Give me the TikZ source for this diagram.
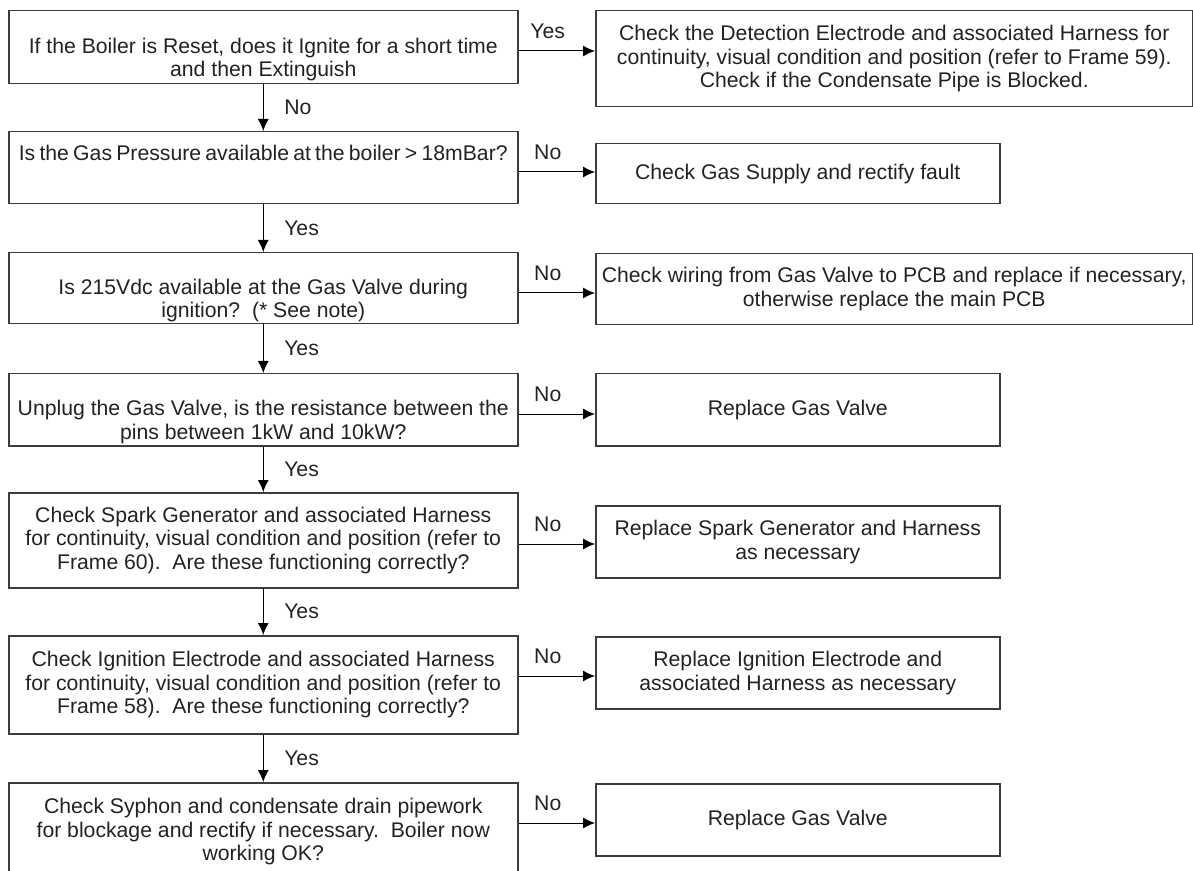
\documentclass[tikz,border=0pt]{standalone}
\usepackage{fontspec}
\setmainfont{Liberation Sans}
\usetikzlibrary{arrows.meta, positioning}
\definecolor{frame}{HTML}{3C3C3C}
\definecolor{ink}{HTML}{222222}
\tikzset{
    box/.style={rectangle, draw=frame, line width=0.75pt, anchor=north west, align=center,
                inner xsep=0.5pt, inner ysep=0pt, text=ink,
                font=\fontsize{10.6}{11.8}\selectfont},
    qbox/.style={box, minimum width=254.5pt},
    abox/.style={box, minimum width=202pt},
    widebox/.style={box, minimum width=298.5pt},
    lbl/.style={font=\fontsize{10.6}{11.8}\selectfont, text=ink, inner sep=0pt},
    arr/.style={-{Latex[length=6pt,width=5.5pt]}, line width=0.5pt, color=black},
}

\begin{document}
\begin{tikzpicture}[x=0.5pt, y=-0.5pt]
  \useasboundingbox (0,0) rectangle (1193,871);

  % questions, left column
  \node[qbox, minimum height=36.5pt] (l1) at (8,10)
        {\strut\\If the Boiler is Reset, does it Ignite for a short time\\and then Extinguish};
  \node[qbox, minimum height=36pt] (l2) at (8,131)
        {\spaceskip=0.2em Is the Gas Pressure available at the boiler > 18mBar?\\\strut};
  \node[qbox, minimum height=35.5pt] (l3) at (8,252)
        {\strut\\Is 215Vdc available at the Gas Valve during\\ignition?~~(* See note)};
  \node[qbox, minimum height=36pt] (l4) at (8,373)
        {\strut\\Unplug the Gas Valve, is the resistance between the\\pins between 1kW and 10kW?};
  \node[qbox, minimum height=47.5pt] (l5) at (8,492)
        {Check Spark Generator and associated Harness\\for continuity, visual condition and position (refer to\\Frame 60).~~Are these functioning correctly?};
  \node[qbox, minimum height=49pt] (l6) at (8,635)
        {Check Ignition Electrode and associated Harness\\for continuity, visual condition and position (refer to\\Frame 58).~~Are these functioning correctly?};
  \node[qbox, minimum height=49pt] (l7) at (8,782)
        {Check Syphon and condensate drain pipework\\for blockage and rectify if necessary.~~Boiler now\\working OK?};

  % actions, right column
  \node[widebox, minimum height=48pt] (r1) at (595,10)
        {Check the Detection Electrode and associated Harness for\\continuity, visual condition and position (refer to Frame 59).\\Check if the Condensate Pipe is Blocked.};
  \node[abox, minimum height=30pt] (r2) at (595,143) {Check Gas Supply and rectify fault};
  \node[widebox, minimum height=35.5pt] (r3) at (595,253)
        {Check wiring from Gas Valve to PCB and replace if necessary,\\otherwise replace the main PCB};
  \node[abox, minimum height=36pt] (r4) at (595,373) {Replace Gas Valve};
  \node[abox, minimum height=36pt] (r5) at (595,505)
        {Replace Spark Generator and Harness\\as necessary};
  \node[abox, minimum height=36pt] (r6) at (595,636)
        {Replace Ignition Electrode and\\associated Harness as necessary};
  \node[abox, minimum height=36pt] (r7) at (595,783) {Replace Gas Valve};

  % down the column
  \draw[arr] (l1) -- node[lbl, right=10.25pt]{No} (l2);
  \draw[arr] (l2) -- node[lbl, right=10.25pt]{Yes} (l3);
  \draw[arr] (l3) -- node[lbl, right=10.25pt]{Yes} (l4);
  \draw[arr] (l4) -- node[lbl, right=10.25pt]{Yes} (l5);
  \draw[arr] (l5) -- node[lbl, right=10.25pt]{Yes} (l6);
  \draw[arr] (l6) -- node[lbl, right=10.25pt]{Yes} (l7);

  % across to the actions
  \draw[arr] ([yshift=-20.5pt]l1.north east) -- node[lbl, above=6pt, xshift=-4.5pt]{Yes} ([yshift=-20.5pt]l1.north east -| r1.west);
  \draw[arr] ([yshift=-20.5pt]l2.north east) -- node[lbl, above=6pt, xshift=-4.5pt]{No} ([yshift=-20.5pt]l2.north east -| r2.west);
  \draw[arr] ([yshift=-20.5pt]l3.north east) -- node[lbl, above=6pt, xshift=-4.5pt]{No} ([yshift=-20.5pt]l3.north east -| r3.west);
  \draw[arr] ([yshift=-20.5pt]l4.north east) -- node[lbl, above=6pt, xshift=-4.5pt]{No} ([yshift=-20.5pt]l4.north east -| r4.west);
  \draw[arr] ([yshift=-26pt]l5.north east) -- node[lbl, above=6pt, xshift=-4.5pt]{No} ([yshift=-26pt]l5.north east -| r5.west);
  \draw[arr] ([yshift=-20.5pt]l6.north east) -- node[lbl, above=6pt, xshift=-4.5pt]{No} ([yshift=-20.5pt]l6.north east -| r6.west);
  \draw[arr] ([yshift=-20.5pt]l7.north east) -- node[lbl, above=6pt, xshift=-4.5pt]{No} ([yshift=-20.5pt]l7.north east -| r7.west);

\end{tikzpicture}
\end{document}
